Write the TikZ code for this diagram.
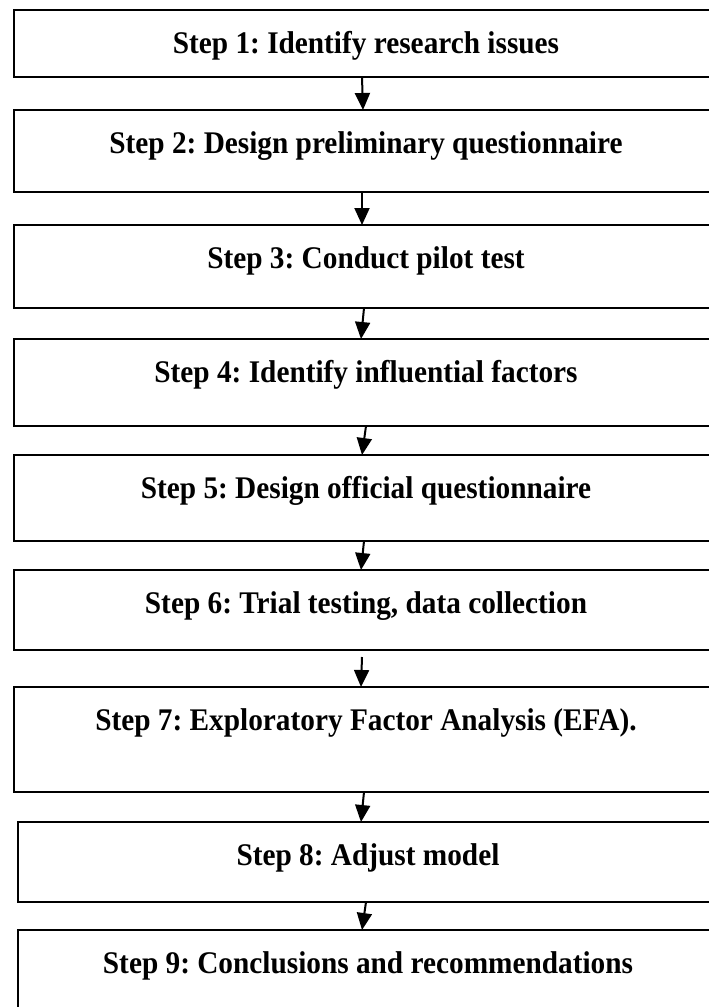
\documentclass[tikz,border=0pt]{standalone}
\usepackage{fontspec}
\setmainfont{Liberation Serif}
\newfontfamily\stepfont[FakeStretch=0.93]{Liberation Serif}
\usetikzlibrary{positioning, arrows.meta, calc}

\begin{document}
\frenchspacing
\begin{tikzpicture}[
			x=1pt, y=-1pt,
			% --- Styles ---
			stepbox/.style={
				rectangle, draw, line width=2.5pt, outer sep=0pt, inner sep=0pt,
				minimum width=704pt, text height=43pt, align=center,
				font=\stepfont\bfseries\fontsize{31.5}{36}\selectfont
			},
			flowarrow/.style={
				draw, line width=2pt, -{Triangle[width=15pt, length=17pt]}
			}
			]
			
			% --- Page ---
			\useasboundingbox (0,0) rectangle (709,1007);
			\fill [white] (0,0) rectangle (709,1007);
			
			% --- 1. The Steps ---
			\node [stepbox, anchor=north west, text depth=24pt] (s1) at (14,10) {Step 1: Identify research issues};
			\node [stepbox, text depth=39pt, below=33pt of s1] (s2) {Step 2: Design preliminary questionnaire};
			\node [stepbox, text depth=40pt, below=33pt of s2] (s3) {Step 3: Conduct pilot test};
			\node [stepbox, text depth=44pt, below=31pt of s3] (s4) {Step 4: Identify influential factors};
			\node [stepbox, text depth=43pt, below=29pt of s4] (s5) {Step 5: Design official questionnaire};
			\node [stepbox, text depth=37pt, below=29pt of s5] (s6) {Step 6: Trial testing, data collection};
			\node [stepbox, text depth=62pt, below=37pt of s6] (s7) {Step 7: Exploratory Factor Analysis (EFA).};
			
			% Last two boxes sit a little to the right
			\node [stepbox, minimum width=700pt, text depth=37pt, below=30pt of s7, xshift=2pt] (s8) {Step 8: Adjust model};
			\node [stepbox, minimum width=700pt, text depth=42pt, below=28pt of s8] (s9) {Step 9: Conclusions and recommendations};
			
			% --- 2. Connections ---
			% Vertical line the arrows follow
			\coordinate (ax) at (362,0);
			
			\draw [flowarrow] (s1.south -| ax) -- ($(s2.north -| ax)+(1,0)$);
			\draw [flowarrow] (s2.south -| ax) -- (s3.north -| ax);
			\draw [flowarrow] ($(s3.south -| ax)+(2,0)$) -- ($(s4.north -| ax)+(-1,0)$);
			\draw [flowarrow] ($(s4.south -| ax)+(4,0)$) -- (s5.north -| ax);
			\draw [flowarrow] ($(s5.south -| ax)+(2,0)$) -- ($(s6.north -| ax)+(-1,0)$);
			\draw [flowarrow] ($(s6.south -| ax)+(0,7)$) -- ($(s7.north -| ax)+(-1,0)$);
			\draw [flowarrow] ($(s7.south -| ax)+(2,0)$) -- ($(s8.north -| ax)+(-1,0)$);
			\draw [flowarrow] ($(s8.south -| ax)+(4,0)$) -- (s9.north -| ax);
			
		\end{tikzpicture}
\end{document}
